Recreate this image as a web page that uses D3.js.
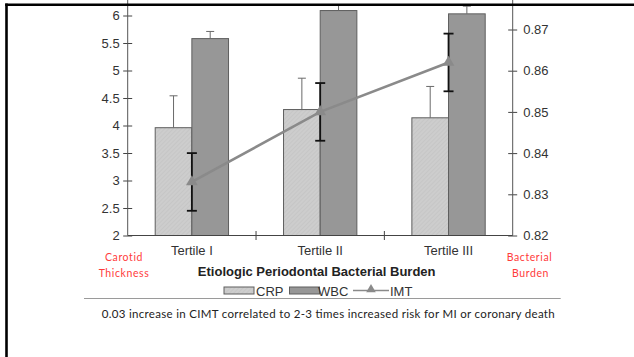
<!DOCTYPE html>
<html>
<head>
<meta charset="utf-8">
<script src="https://cdn.jsdelivr.net/npm/d3@7"></script>
<style>
  body { margin: 0; background: #fff; }
  svg { display: block; }
</style>
</head>
<body>
<div id="chart"></div>
<script>
// data
const categories = ["Tertile I", "Tertile II", "Tertile III"];
const series = ["CRP", "WBC"];
const crp = [3.96, 4.29, 4.14];
const crpErr = [0.58, 0.57, 0.57];
const wbc = [5.58, 6.09, 6.03];
const wbcErr = [0.13, 0.14, 0.14];
const imt = [0.833, 0.850, 0.862];
const imtErr = [0.007, 0.007, 0.007];
const leftTicks = [2, 2.5, 3, 3.5, 4, 4.5, 5, 5.5, 6];
const rightTicks = [0.82, 0.83, 0.84, 0.85, 0.86, 0.87];

const W = 634, H = 357;
const plot = { left: 127.7, right: 512.7, bottom: 235.5, top: 5 };
const axisFont = "Arial, 'Liberation Sans', sans-serif";

const svg = d3.select("#chart").append("svg")
    .attr("width", W)
    .attr("height", H);

svg.append("rect").attr("width", W).attr("height", H).attr("fill", "#fff");

const defs = svg.append("defs");
defs.append("clipPath").attr("id", "plotClip")
    .append("rect").attr("x", 0).attr("y", plot.top).attr("width", W).attr("height", H);

// faint hatch for CRP bars
const hatch = defs.append("pattern")
    .attr("id", "hatch")
    .attr("patternUnits", "userSpaceOnUse")
    .attr("width", 3).attr("height", 3)
    .attr("patternTransform", "rotate(45)");
hatch.append("rect").attr("width", 3).attr("height", 3).attr("fill", "#cdcdcd");
hatch.append("line").attr("x1", 0).attr("y1", 0).attr("x2", 0).attr("y2", 3)
    .attr("stroke", "#c0c0c0").attr("stroke-width", 1);

// scales
const x0 = d3.scaleBand().domain(categories).range([plot.left, plot.right]);
const x1 = d3.scaleBand().domain(series).range([0, x0.bandwidth()]).paddingOuter(0.75);
const yL = d3.scaleLinear().domain([2, 6]).range([plot.bottom, 15.5]);
const yR = d3.scaleLinear().domain([0.82, 0.87]).range([plot.bottom, 29.5]);

const fills = { CRP: "url(#hatch)", WBC: "#979797" };
const values = { CRP: crp, WBC: wbc };
const errs = { CRP: crpErr, WBC: wbcErr };

const g = svg.append("g").attr("clip-path", "url(#plotClip)");

// bars + upper error whiskers
series.forEach(s => {
    categories.forEach((c, i) => {
        const bx = x0(c) + x1(s);
        g.append("rect")
            .attr("x", bx)
            .attr("y", yL(values[s][i]))
            .attr("width", x1.bandwidth())
            .attr("height", yL(2) - yL(values[s][i]))
            .attr("fill", fills[s])
            .attr("stroke", "#5e5e5e")
            .attr("stroke-width", 1);
        const cx = bx + x1.bandwidth() / 2;
        g.append("line")
            .attr("x1", cx).attr("x2", cx)
            .attr("y1", yL(values[s][i])).attr("y2", yL(values[s][i] + errs[s][i]))
            .attr("stroke", "#6a6a6a").attr("stroke-width", 1);
        g.append("line")
            .attr("x1", cx - 4).attr("x2", cx + 4)
            .attr("y1", yL(values[s][i] + errs[s][i])).attr("y2", yL(values[s][i] + errs[s][i]))
            .attr("stroke", "#6a6a6a").attr("stroke-width", 1);
    });
});

// IMT error bars (black)
categories.forEach((c, i) => {
    const cx = x0(c) + x0.bandwidth() / 2;
    const top = yR(imt[i] + imtErr[i]), bot = yR(imt[i] - imtErr[i]);
    g.append("line").attr("x1", cx).attr("x2", cx).attr("y1", top).attr("y2", bot)
        .attr("stroke", "#111").attr("stroke-width", 1.8);
    [top, bot].forEach(yy => {
        g.append("line").attr("x1", cx - 5).attr("x2", cx + 5).attr("y1", yy).attr("y2", yy)
            .attr("stroke", "#111").attr("stroke-width", 1.8);
    });
});

// IMT line
const line = d3.line()
    .x((d, i) => x0(categories[i]) + x0.bandwidth() / 2)
    .y(d => yR(d));
g.append("path")
    .datum(imt)
    .attr("fill", "none")
    .attr("stroke", "#8a8a8a")
    .attr("stroke-width", 2.6)
    .attr("d", line);

g.selectAll(".tri")
    .data(imt)
    .enter()
    .append("path")
    .attr("class", "tri")
    .attr("transform", (d, i) => `translate(${x0(categories[i]) + x0.bandwidth() / 2},${yR(d)})`)
    .attr("d", d3.symbol().type(d3.symbolTriangle).size(60))
    .attr("fill", "#8a8a8a");

// left axis
const axL = svg.append("g").attr("transform", `translate(${plot.left},0)`)
    .call(d3.axisLeft(yL).tickValues(leftTicks).tickSize(4.5).tickFormat(d3.format("")));
axL.select(".domain").remove();
axL.selectAll(".tick line").attr("x1", -4.5).attr("x2", 4.5).attr("stroke", "#444");
axL.selectAll(".tick text").attr("x", -8).attr("font-family", axisFont)
    .attr("font-size", 13).attr("fill", "#333");
svg.append("line").attr("x1", plot.left).attr("x2", plot.left)
    .attr("y1", plot.bottom).attr("y2", 0).attr("stroke", "#555").attr("stroke-width", 1);

// right axis
const axR = svg.append("g").attr("transform", `translate(${plot.right},0)`)
    .call(d3.axisRight(yR).tickValues(rightTicks).tickSize(4.5).tickFormat(d3.format(".2f")));
axR.select(".domain").remove();
axR.selectAll(".tick line").attr("x1", -4.5).attr("x2", 4.5).attr("stroke", "#444");
axR.selectAll(".tick text").attr("x", 10.5).attr("font-family", axisFont)
    .attr("font-size", 13).attr("fill", "#333");
svg.append("line").attr("x1", plot.right).attr("x2", plot.right)
    .attr("y1", plot.bottom).attr("y2", 0).attr("stroke", "#555").attr("stroke-width", 1);

// bottom axis: ticks at category boundaries, labels centered
const axB = svg.append("g").attr("transform", `translate(0,${plot.bottom})`);
axB.append("line").attr("x1", plot.left).attr("x2", plot.right)
    .attr("stroke", "#444").attr("stroke-width", 1.2);
categories.slice(1).forEach(c => {
    axB.append("line").attr("x1", x0(c)).attr("x2", x0(c)).attr("y1", -4.5).attr("y2", 4.5)
        .attr("stroke", "#444");
});
categories.forEach(c => {
    axB.append("text")
        .attr("x", x0(c) + x0.bandwidth() / 2)
        .attr("y", 19.5)
        .attr("text-anchor", "middle")
        .attr("font-family", axisFont)
        .attr("font-size", 13)
        .attr("fill", "#333")
        .text(c);
});

// axis title
svg.append("text")
    .attr("x", 316.7)
    .attr("y", 276)
    .attr("text-anchor", "middle")
    .attr("font-family", axisFont)
    .attr("font-size", 13)
    .attr("font-weight", "bold")
    .attr("fill", "#222")
    .text("Etiologic Periodontal Bacterial Burden");

// legend
const leg = svg.append("g");
const legItems = [
    { key: "CRP", box: 224, text: 256 },
    { key: "WBC", box: 289.5, text: 318 }
];
legItems.forEach(d => {
    leg.append("rect").attr("x", d.box).attr("y", 287).attr("width", 30).attr("height", 7)
        .attr("fill", fills[d.key]).attr("stroke", "#5e5e5e").attr("stroke-width", 1);
    leg.append("text").attr("x", d.text).attr("y", 295.5)
        .attr("font-family", axisFont).attr("font-size", 13).attr("fill", "#333").text(d.key);
});
leg.append("line").attr("x1", 353).attr("x2", 389).attr("y1", 290.5).attr("y2", 290.5)
    .attr("stroke", "#8a8a8a").attr("stroke-width", 1.6);
leg.append("path").attr("transform", "translate(371,289.5)")
    .attr("d", d3.symbol().type(d3.symbolTriangle).size(40)).attr("fill", "#8a8a8a");
leg.append("text").attr("x", 390).attr("y", 295.5)
    .attr("font-family", axisFont).attr("font-size", 13).attr("fill", "#333").text("IMT");

// red side labels
const redFont = "Lato, 'Open Sans', sans-serif";
[["Carotid", 124, 261], ["Thickness", 124, 277], ["Bacterial", 529.5, 261], ["Burden", 530.5, 277]]
    .forEach(([t, xx, yy]) => {
        svg.append("text").attr("x", xx).attr("y", yy).attr("text-anchor", "middle")
            .attr("font-family", redFont).attr("font-size", 10.5).attr("letter-spacing", 0.6)
            .attr("fill", "#ff3b3b").text(t);
    });

// separator and caption
svg.append("line").attr("x1", 84).attr("x2", 560.7).attr("y1", 298.5).attr("y2", 298.5)
    .attr("stroke", "#9a9a9a").attr("stroke-width", 1);
svg.append("text")
    .attr("x", 101.7)
    .attr("y", 318)
    .attr("font-family", redFont)
    .attr("font-size", 11.5)
    .attr("fill", "#222")
    .attr("textLength", 453)
    .attr("lengthAdjust", "spacing")
    .text("0.03 increase in CIMT correlated to 2-3 times increased risk for MI or coronary death");

// frame (left and top edges)
svg.append("line").attr("x1", 6.5).attr("x2", 6.5).attr("y1", 3.5).attr("y2", H)
    .attr("stroke", "#000").attr("stroke-width", 2.6);
svg.append("line").attr("x1", 5.2).attr("x2", W).attr("y1", 4.8).attr("y2", 4.8)
    .attr("stroke", "#000").attr("stroke-width", 2.6);
</script>
</body>
</html>
